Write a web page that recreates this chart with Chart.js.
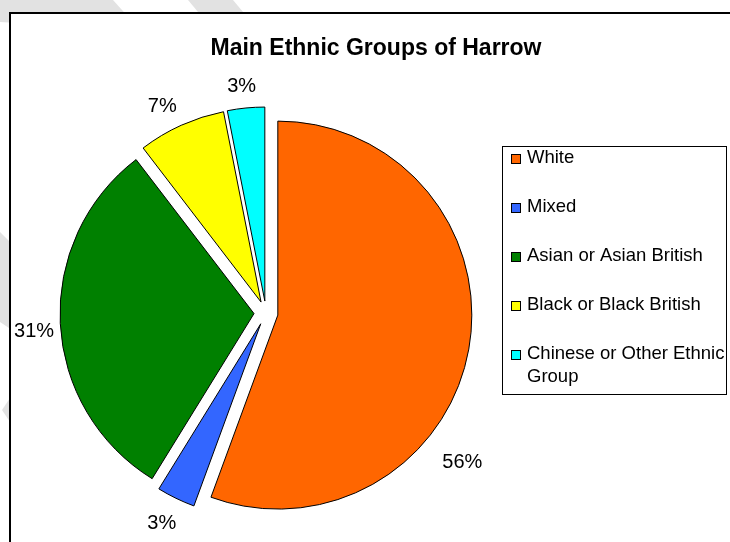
<!DOCTYPE html>
<html>
<head>
<meta charset="utf-8">
<title>Main Ethnic Groups of Harrow</title>
<script src="https://cdn.jsdelivr.net/npm/chart.js@4.4.0/dist/chart.umd.min.js"></script>
<style>
  html, body { margin: 0; padding: 0; background: #fff; }
  body { width: 730px; height: 542px; position: relative; overflow: hidden; }
  .wm { position: absolute; left: 0; top: 0; width: 730px; height: 542px; background: #e2e2e2; }
  #frame { position: absolute; left: 9px; top: 12px; width: 760px; height: 560px; border: 2px solid #000; background: #fff; }
  #wrap { position: absolute; left: 0; top: 0; width: 730px; height: 542px; }
</style>
</head>
<body>
<div class="wm" style="clip-path: polygon(0 0, 113px 0, 140px 30px, 0 22px);"></div>
<div class="wm" style="clip-path: polygon(188px 0, 233px 0, 258px 30px, 213px 30px);"></div>
<div class="wm" style="clip-path: polygon(0 232px, 12px 244px, 12px 330px, 0 322px);"></div>
<div class="wm" style="clip-path: polygon(12px 395px, 12px 425px, 2px 410px);"></div>
<div id="frame"></div>
<div id="wrap"><canvas id="ethnicChart"></canvas></div>

<script>
// Data (share of population, %)
const groups = ['White', 'Mixed', 'Asian or Asian British', 'Black or Black British', 'Chinese or Other Ethnic Group'];
const shares = [55.6, 3.2, 30.8, 7.3, 3.1];
const sliceColours = ['#FF6600', '#3366FF', '#008000', '#FFFF00', '#00FFFF'];
const chartTitle = 'Main Ethnic Groups of Harrow';

const FONT = "'Liberation Sans', Arial, sans-serif";

// Push every slice out along its middle angle (Excel style exploded pie)
const explodePie = {
    id: 'explodePie',
    afterUpdate(chart, args, opts) {
        chart.getDatasetMeta(0).data.forEach(arc => {
            const mid = (arc.startAngle + arc.endAngle) / 2;
            arc.x += Math.cos(mid) * opts.distance;
            arc.y += Math.sin(mid) * opts.distance;
        });
    }
};

// Percentage labels outside the slices
const sliceLabels = {
    id: 'sliceLabels',
    afterDatasetsDraw(chart, args, opts) {
        const { ctx } = chart;
        const values = chart.data.datasets[0].data;
        const total = values.reduce((a, b) => a + b, 0);
        ctx.save();
        ctx.font = opts.font;
        ctx.fillStyle = '#000';
        ctx.textAlign = 'center';
        ctx.textBaseline = 'middle';
        chart.getDatasetMeta(0).data.forEach((arc, i) => {
            const nudge = opts.nudge[i] || {};
            const a = (arc.startAngle + arc.endAngle) / 2 + (nudge.angle || 0) * Math.PI / 180;
            const r = arc.outerRadius + opts.gap + (nudge.dist || 0);
            const txt = Math.round(values[i] / total * 100) + '%';
            ctx.fillText(txt, arc.x + Math.cos(a) * r, arc.y + Math.sin(a) * r);
        });
        ctx.restore();
    }
};

// Title and boxed legend
const frameText = {
    id: 'frameText',
    afterDraw(chart, args, o) {
        const { ctx } = chart;
        ctx.save();
        ctx.fillStyle = '#000';
        ctx.font = 'bold 23px ' + FONT;
        ctx.textAlign = 'center';
        ctx.textBaseline = 'alphabetic';
        ctx.fillText(o.title, o.titleX, o.titleY);

        const lg = o.legend;
        ctx.fillStyle = '#fff';
        ctx.fillRect(lg.left, lg.top, lg.width, lg.height);
        ctx.strokeStyle = '#000';
        ctx.lineWidth = 1;
        ctx.strokeRect(lg.left + 0.5, lg.top + 0.5, lg.width, lg.height);

        ctx.font = lg.font;
        ctx.textAlign = 'left';
        ctx.textBaseline = 'middle';
        const colours = chart.data.datasets[0].backgroundColor;
        chart.data.labels.forEach((label, i) => {
            const y = lg.firstY + i * lg.step;
            const top = Math.round(y - 3.5);
            ctx.fillStyle = colours[i];
            ctx.fillRect(lg.boxX, top, 10, 10);
            ctx.strokeStyle = '#000';
            ctx.strokeRect(lg.boxX + 0.5, top + 0.5, 9, 9);

            // simple word wrap
            const maxW = lg.left + lg.width - lg.textX + 2;
            const words = label.split(' ');
            const lines = [];
            let line = '';
            words.forEach(w => {
                const test = line ? line + ' ' + w : w;
                if (line && ctx.measureText(test).width > maxW) {
                    lines.push(line);
                    line = w;
                } else {
                    line = test;
                }
            });
            lines.push(line);
            ctx.fillStyle = '#000';
            lines.forEach((l, k) => ctx.fillText(l, lg.textX, y + k * lg.lineHeight));
        });
        ctx.restore();
    }
};

const initChart = () => {
    const canvas = document.getElementById('ethnicChart');
    new Chart(canvas, {
        type: 'pie',
        data: {
            labels: groups,
            datasets: [{
                data: shares,
                backgroundColor: sliceColours,
                borderColor: '#000',
                borderWidth: 1,
                radius: 194
            }]
        },
        options: {
            responsive: true,
            maintainAspectRatio: false,
            animation: false,
            events: [],
            layout: { padding: { left: 60, right: 258, top: 107, bottom: 23 } },
            plugins: {
                legend: { display: false },
                title: { display: false },
                tooltip: { enabled: false },
                explodePie: { distance: 12 },
                sliceLabels: {
                    font: '20px ' + FONT,
                    gap: 25,
                    nudge: {
                        0: { angle: 28.5, dist: 17 },
                        1: { angle: 0.5, dist: 3.5 },
                        2: { angle: -1.8, dist: 1.7 },
                        3: { angle: -2.5 },
                        4: { angle: -0.6, dist: -3 }
                    }
                },
                frameText: {
                    title: chartTitle,
                    titleX: 376,
                    titleY: 55,
                    legend: {
                        left: 502, top: 146, width: 224, height: 248,
                        boxX: 511, textX: 527,
                        firstY: 157.5, step: 49, lineHeight: 23.5,
                        font: '18.5px ' + FONT
                    }
                }
            }
        },
        plugins: [explodePie, sliceLabels, frameText]
    });
};

document.addEventListener('DOMContentLoaded', initChart);
</script>
</body>
</html>
